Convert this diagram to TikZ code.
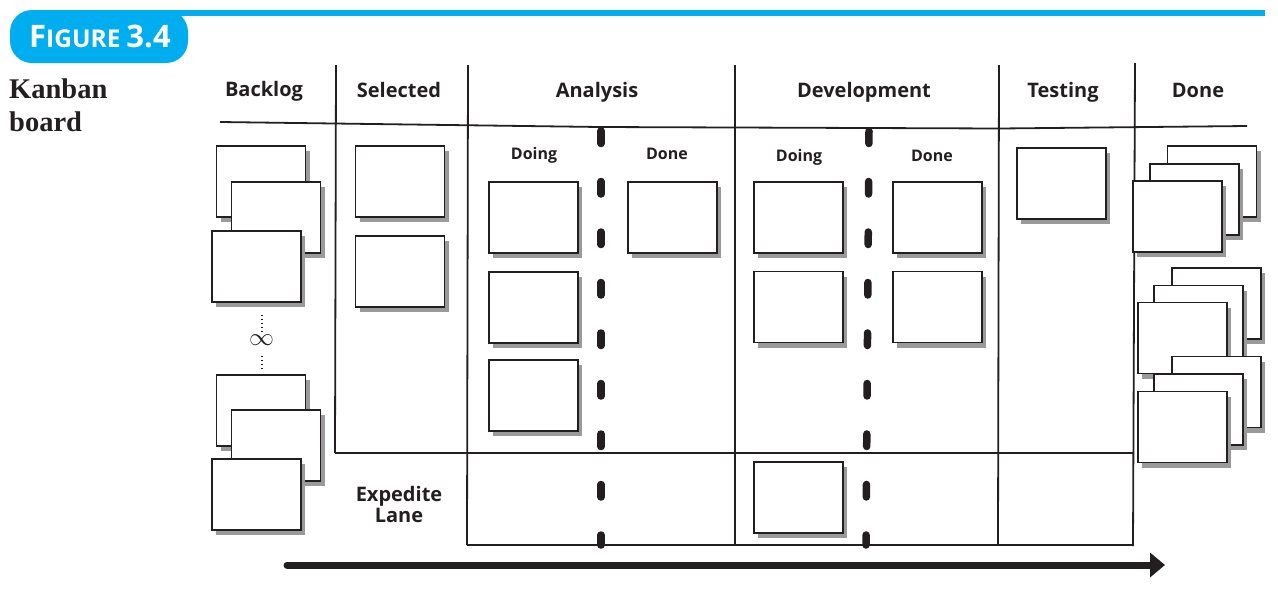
\documentclass[tikz,border=0pt]{standalone}
\usepackage{fontspec}
\setmainfont{Liberation Serif}
\newfontfamily\hfont{Open Sans}
\usetikzlibrary{arrows.meta,shadows}
\definecolor{figblue}{HTML}{00AEEF}
\definecolor{ink}{HTML}{231F20}
\definecolor{shade}{HTML}{9A9A9A}
\begin{document}
\begin{tikzpicture}[x=1pt,y=-1pt,
  card/.style={draw=ink, fill=white, line width=1.6pt, minimum width=89pt, minimum height=71pt, inner sep=0pt,
    drop shadow={shadow xshift=4pt, shadow yshift=-5pt, fill=shade, opacity=1}},
  gridline/.style={draw=ink, line width=1.8pt},
  divider/.style={draw=ink, line width=7.5pt, line cap=round, dash pattern=on 12.5pt off 38pt},
  hdr/.style={font=\hfont\bfseries\fontsize{20}{24}\selectfont, text=ink, anchor=base, inner sep=0pt},
  sub/.style={font=\hfont\bfseries\fontsize{16}{19}\selectfont, text=ink, anchor=base, inner sep=0pt}]
\useasboundingbox (0,0) rectangle (1278,592);

% figure badge and rule
\fill[figblue] (150,10) rectangle (1265,15.5);
\node[fill=figblue, rounded corners=22pt, minimum width=178pt, minimum height=53pt, inner sep=0pt] (badge) at (99,36.5) {};
\node[anchor=base west, text=white, inner sep=0pt, font=\hfont\bfseries] (figlabel) at (29,47)
  {{\fontsize{31}{31}\selectfont F}{\fontsize{24.5}{24.5}\selectfont IGURE}\hspace{6pt}{\fontsize{31}{31}\selectfont 3.4}};
\node[anchor=base west, inner sep=0pt, font=\bfseries\fontsize{28.5}{32}\selectfont, text=ink] (title1) at (9,98) {Kanban};
\node[anchor=base west, inner sep=0pt, font=\bfseries\fontsize{28.5}{32}\selectfont, text=ink] (title2) at (9,131) {board};

% grid
\draw[gridline] (220,122) -- (600,127) -- (1000,128.5) -- (1247,126);
\draw[gridline] (336,65) -- (335,453);
\draw[gridline] (468,65) -- (467,545);
\draw[gridline] (735,65) -- (735,545);
\draw[gridline] (999,65) -- (998,545);
\draw[gridline] (1135,63) -- (1133,546);
\draw[gridline] (335,453) -- (1134,453);
\draw[gridline] (467,545) -- (1134,545);

% WIP dividers
\draw[divider] (601,131) -- (601,545);
\draw[divider] (869,131) -- (866,545);

% headers
\node[hdr] (hBacklog) at (264,96.5) {Backlog};
\node[hdr] (hSelected) at (399,97.5) {Selected};
\node[hdr] (hAnalysis) at (597,97.5) {Analysis};
\node[hdr] (hDev) at (864,97.5) {Development};
\node[hdr] (hTesting) at (1063,97.5) {Testing};
\node[hdr] (hDone) at (1198,97.5) {Done};
\node[sub] (aDoing) at (534,159.5) {Doing};
\node[sub] (aDone) at (667,159.5) {Done};
\node[sub] (dDoing) at (799,161) {Doing};
\node[sub] (dDone) at (932,161) {Done};
\node[hdr] (exp1) at (399,501) {Expedite};
\node[hdr] (exp2) at (399,522) {Lane};

% backlog cards
\node[card] (bl1) at (261,181.5) {};
\node[card] (bl2) at (276,217.5) {};
\node[card] (bl3) at (256.5,266.5) {};
\node[card] (bl4) at (261,410.5) {};
\node[card] (bl5) at (276,445.5) {};
\node[card] (bl6) at (256.5,494.5) {};
\node[inner sep=0pt, text=ink, font=\fontsize{25}{25}\selectfont] (inf) at (261.5,340) {$\infty$};
\coordinate (dotA) at (262,315);
\coordinate (dotB) at (262,356);
\draw[ink, line width=1.3pt, dash pattern=on 1.3pt off 2.6pt] (dotA) -- ++(0,16);
\draw[ink, line width=1.3pt, dash pattern=on 1.3pt off 2.6pt] (dotB) -- ++(0,15);

% selected
\node[card] (se1) at (400,181.5) {};
\node[card] (se2) at (400,271.5) {};
% analysis
\node[card] (an1) at (533.5,217.5) {};
\node[card] (an2) at (533.5,307.5) {};
\node[card] (an3) at (533.5,395.5) {};
\node[card] (ad1) at (672.5,217.5) {};
% development
\node[card] (dv1) at (798.5,217.5) {};
\node[card] (dv2) at (798.5,307) {};
\node[card] (dd1) at (937.5,217.5) {};
\node[card] (dd2) at (937.5,307) {};
% testing
\node[card] (ts1) at (1061.5,183.5) {};
% expedite
\node[card] (ex1) at (798.5,497.5) {};
% done stacks
\node[card] (dn1) at (1212,181.5) {};
\node[card] (dn2) at (1194.5,199.5) {};
\node[card] (dn3) at (1177.5,216.5) {};
\node[card] (dn4) at (1216.5,303.5) {};
\node[card] (dn5) at (1198.5,321) {};
\node[card] (dn6) at (1182.5,338) {};
\node[card] (dn7) at (1216.5,392) {};
\node[card] (dn8) at (1198.5,409.5) {};
\node[card] (dn9) at (1182.5,427) {};

% flow arrow
\coordinate (flowstart) at (287,565);
\coordinate (flowend) at (1165,565);
\draw[ink, line width=7pt, line cap=round, -{Triangle[length=15pt, width=24pt]}] (flowstart) -- (flowend);
\end{tikzpicture}
\end{document}
